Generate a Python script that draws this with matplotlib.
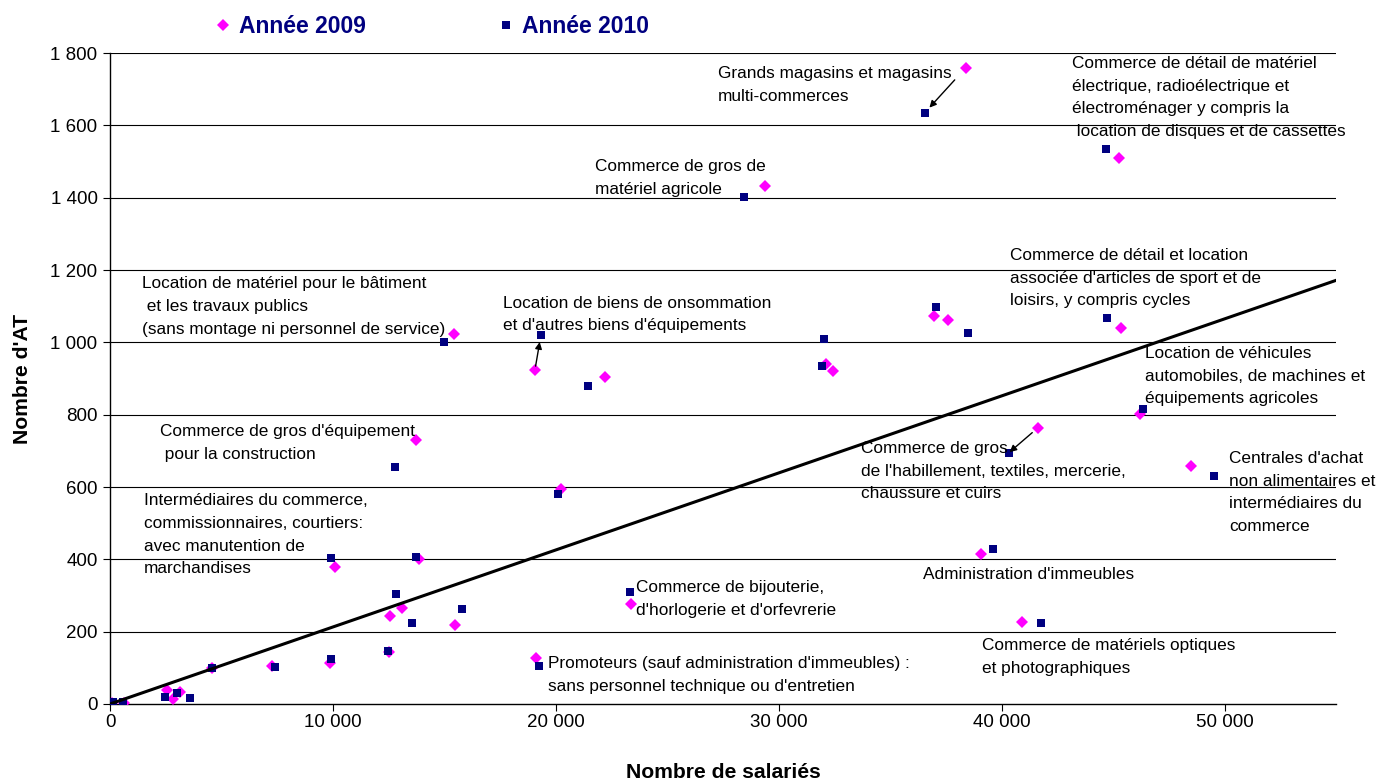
import matplotlib
matplotlib.use('Agg')
import matplotlib.pyplot as plt
from matplotlib.lines import Line2D

plt.rcParams['font.family'] = ['Liberation Sans', 'DejaVu Sans']

# Données (nombre de salariés, nombre d'AT)
x_2009 = [38400, 45250, 29370, 15430, 19060, 22200, 32110, 32420, 36950, 37580,
          45340, 46230, 41610, 48480, 39060, 40900, 13720, 20220, 10090, 13860,
          23360, 13090, 12560, 15470, 19100, 12530, 9870, 7260, 4570, 2556,
          2825, 3139, 100, 630]
y_2009 = [1760, 1510, 1432, 1023, 923, 904, 940, 921, 1073, 1062,
          1040, 802, 763, 658, 415, 227, 730, 594, 379, 401,
          276, 265, 243, 218, 127, 144, 113, 105, 100, 39,
          14, 33, 3, 3]
x_2010 = [36550, 44700, 28430, 14980, 19330, 21430, 31930, 32020, 37040, 38480,
          44710, 46320, 40310, 49510, 39600, 41750, 12780, 20090, 9910, 13720,
          23320, 12830, 13540, 15790, 19240, 12470, 9910, 7400, 4570, 2466,
          3004, 3587, 135, 600]
y_2010 = [1635, 1534, 1402, 1001, 1020, 879, 934, 1009, 1098, 1026,
          1067, 816, 694, 630, 428, 224, 655, 581, 404, 406,
          310, 304, 224, 263, 105, 147, 124, 102, 100, 19,
          30, 17, 6, 5]

trend_slope = 0.0213  # droite de tendance passant par l'origine

x_ticks = [0, 10000, 20000, 30000, 40000, 50000]
x_tick_labels = ['0', '10 000', '20 000', '30 000', '40 000', '50 000']
y_ticks = [0, 200, 400, 600, 800, 1000, 1200, 1400, 1600, 1800]
y_tick_labels = ['0', '200', '400', '600', '800', '1 000', '1 200', '1 400', '1 600', '1 800']

# libellés : texte, coin haut-gauche (x, y) en coordonnées données
labels = [
    ("Grands magasins et magasins\nmulti-commerces", 27275, 1764),
    ("Commerce de détail de matériel\nélectrique, radioélectrique et\n"
     "électroménager y compris la\n location de disques et de cassettes", 43155, 1792),
    ("Commerce de gros de\nmatériel agricole", 21757, 1507),
    ("Location de matériel pour le bâtiment\n et les travaux publics\n"
     "(sans montage ni personnel de service)", 1435, 1183),
    ("Location de biens de onsommation\net d'autres biens d'équipements", 17630, 1129),
    ("Commerce de détail et location\nassociée d'articles de sport et de\n"
     "loisirs, y compris cycles", 40374, 1261),
    ("Location de véhicules\nautomobiles, de machines et\néquipements agricoles", 46450, 990),
    ("Commerce de gros d'équipement\n pour la construction", 2243, 774),
    ("Commerce de gros\nde l'habillement, textiles, mercerie,\nchaussure et cuirs", 33690, 727),
    ("Centrales d'achat\nnon alimentaires et\nintermédiaires du\ncommerce", 50200, 700),
    ("Intermédiaires du commerce,\ncommissionnaires, courtiers:\n"
     "avec manutention de\nmarchandises", 1525, 583),
    ("Administration d'immeubles", 36450, 379),
    ("Commerce de bijouterie,\nd'horlogerie et d'orfevrerie", 23600, 343),
    ("Commerce de matériels optiques\net photographiques", 39100, 183),
    ("Promoteurs (sauf administration d'immeubles) :\n"
     "sans personnel technique ou d'entretien", 19650, 133),
]

# flèches 2009 -> 2010 (indice, retrait départ, retrait arrivée)
arrow_idx = [(0, 12, 5), (4, 3, 5), (12, 5, 1)]

pink = '#FF00FF'
navy = '#000080'

fig = plt.figure(figsize=(13.79, 7.81), dpi=100)
ax = fig.add_axes([0.0798, 0.0986, 0.889, 0.8334])

ax.set_xlim(0, 55000)
ax.set_ylim(0, 1800)

for yt in y_ticks[1:]:
  ax.axhline(yt, color='black', lw=0.8, zorder=1)

ax.plot(x_2009, y_2009, linestyle='none', marker='D', ms=6.3, color=pink,
        markeredgewidth=0, zorder=3)
ax.plot(x_2010, y_2010, linestyle='none', marker='s', ms=5.8, color=navy,
        markeredgewidth=0, zorder=3)

ax.plot([0, 55000], [0, trend_slope * 55000], color='black', lw=2.2, zorder=4)

for txt, tx, ty in labels:
  ax.text(tx, ty, txt, fontsize=12.4, va='top', ha='left', linespacing=1.64,
          color='black', zorder=5)

for i, sa, sb in arrow_idx:
  ax.annotate('', xy=(x_2010[i], y_2010[i]), xytext=(x_2009[i], y_2009[i]),
              arrowprops=dict(arrowstyle='-|>', color='black', lw=1.0,
                              mutation_scale=10, shrinkA=sa, shrinkB=sb),
              zorder=5)

ax.set_xticks(x_ticks)
ax.set_xticklabels(x_tick_labels)
ax.set_yticks(y_ticks)
ax.set_yticklabels(y_tick_labels)
ax.tick_params(axis='both', direction='out', length=5, width=0.8, labelsize=13.5, colors='black')
ax.tick_params(axis='x', pad=2)
ax.tick_params(axis='y', pad=4)

for side in ['top', 'right']:
  ax.spines[side].set_visible(False)
for side in ['left', 'bottom']:
  ax.spines[side].set_color('black')
  ax.spines[side].set_linewidth(1.0)

ax.set_xlabel('Nombre de salariés', fontsize=15.2, fontweight='bold', labelpad=23)
ax.set_ylabel("Nombre d'AT", fontsize=15.2, fontweight='bold', labelpad=13)

handles = [
  Line2D([], [], linestyle='none', marker='D', ms=6, color=pink, markeredgewidth=0),
  Line2D([], [], linestyle='none', marker='s', ms=5.5, color=navy, markeredgewidth=0),
]
leg = fig.legend(handles, ['Année 2009', 'Année 2010'], loc='center',
                 bbox_to_anchor=(0.313, 0.966), ncol=2, frameon=False,
                 handlelength=0.8, handletextpad=0.3, columnspacing=5.7,
                 prop={'size': 16.5, 'weight': 'bold'})
for t in leg.get_texts():
  t.set_color(navy)

fig.savefig('out.png', dpi=100)
